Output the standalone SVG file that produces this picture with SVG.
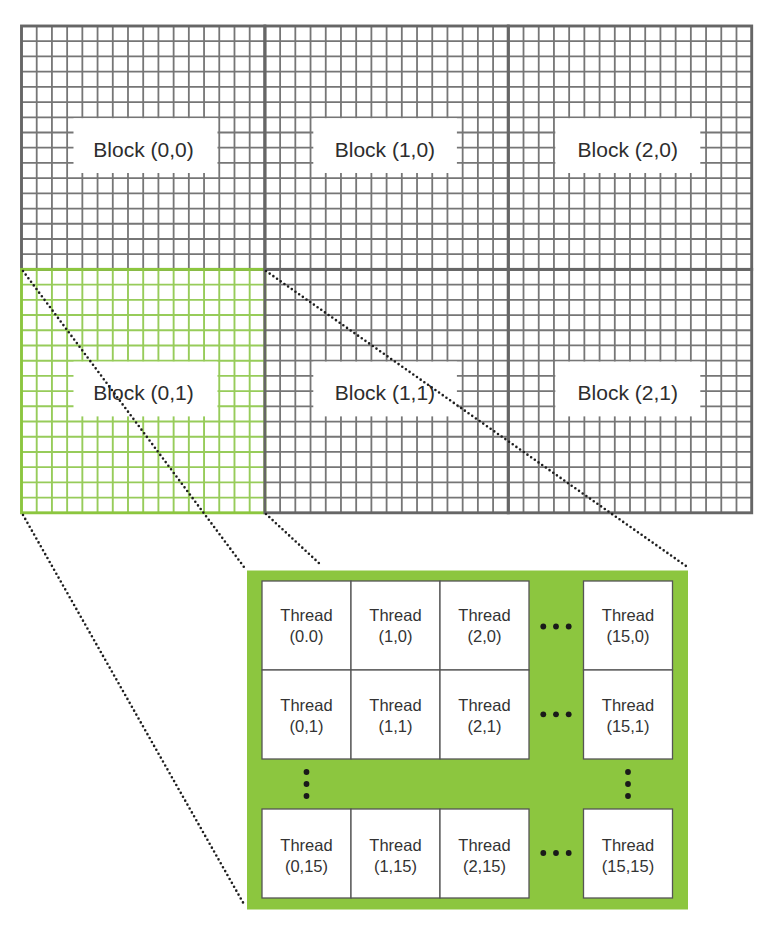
<svg xmlns="http://www.w3.org/2000/svg" xmlns:xlink="http://www.w3.org/1999/xlink" width="781" height="928" viewBox="0 0 781 928">
<style>
.grid{fill:none;stroke:#767676;stroke-width:1.8}
.gridg{fill:none;stroke:#97cc5a;stroke-width:1.9}
.bord{fill:none;stroke:#666666;stroke-width:2.9}
.bordg{fill:none;stroke:#8cc63f;stroke-width:2.9}
.lab{fill:#ffffff;stroke:none}
.bt{font-family:"Liberation Sans",Arial,sans-serif;font-size:21px;fill:#2d2d2d;text-anchor:middle}
.cell{fill:#ffffff;stroke:#555555;stroke-width:1.3}
.tt{font-family:"Liberation Sans",Arial,sans-serif;font-size:16.5px;fill:#333333;text-anchor:middle}
.dot{fill:#1a1a1a}
.conn{fill:none;stroke:#1e1e1e;stroke-width:2.6;stroke-dasharray:0 4.5;stroke-linecap:round}
</style>
<defs>
<path id="gridpath" d="M15.21 0V243.4M30.43 0V243.4M45.64 0V243.4M60.85 0V243.4M76.06 0V243.4M91.28 0V243.4M106.49 0V243.4M121.7 0V243.4M136.91 0V243.4M152.13 0V243.4M167.34 0V243.4M182.55 0V243.4M197.76 0V243.4M212.98 0V243.4M228.19 0V243.4M0 15.21H243.4M0 30.43H243.4M0 45.64H243.4M0 60.85H243.4M0 76.06H243.4M0 91.28H243.4M0 106.49H243.4M0 121.7H243.4M0 136.91H243.4M0 152.13H243.4M0 167.34H243.4M0 182.55H243.4M0 197.76H243.4M0 212.98H243.4M0 228.19H243.4"/>
</defs>
<rect width="781" height="928" fill="#ffffff"/>

<g id="block-0-0" transform="translate(21.5,26)">
<use xlink:href="#gridpath" class="grid"/>
<rect class="bord" x="0" y="0" width="243.4" height="243.4"/>
<rect class="lab" x="52" y="92.2" width="144" height="54.8"/>
<text class="bt" x="122" y="131">Block (0,0)</text>
</g>
<g id="block-0-1" transform="translate(21.5,269.4)">
<use xlink:href="#gridpath" class="gridg"/>
<rect class="bordg" x="0" y="0" width="243.4" height="243.4"/>
<rect class="lab" x="52" y="92.2" width="144" height="54.8"/>
<text class="bt" x="122" y="131">Block (0,1)</text>
</g>
<g id="block-1-0" transform="translate(264.9,26)">
<use xlink:href="#gridpath" class="grid"/>
<rect class="bord" x="0" y="0" width="243.4" height="243.4"/>
<rect class="lab" x="48.4" y="92.2" width="143.6" height="54.8"/>
<text class="bt" x="120" y="131">Block (1,0)</text>
</g>
<g id="block-2-0" transform="translate(508.3,26)">
<use xlink:href="#gridpath" class="grid"/>
<rect class="bord" x="0" y="0" width="243.4" height="243.4"/>
<rect class="lab" x="47" y="92.2" width="145" height="54.8"/>
<text class="bt" x="119.5" y="131">Block (2,0)</text>
</g>
<g id="block-1-1" transform="translate(264.9,269.4)">
<use xlink:href="#gridpath" class="grid"/>
<rect class="bord" x="0" y="0" width="243.4" height="243.4"/>
<rect class="lab" x="48.4" y="92.2" width="143.6" height="54.8"/>
<text class="bt" x="120" y="131">Block (1,1)</text>
</g>
<g id="block-2-1" transform="translate(508.3,269.4)">
<use xlink:href="#gridpath" class="grid"/>
<rect class="bord" x="0" y="0" width="243.4" height="243.4"/>
<rect class="lab" x="47" y="92.2" width="145" height="54.8"/>
<text class="bt" x="119.5" y="131">Block (2,1)</text>
</g>

<g id="block-detail">
<rect x="247" y="570.5" width="441" height="339" fill="#8cc63f"/>
</g>

<g id="thread-0-0"><rect class="cell" x="262" y="581" width="89" height="89"/><text class="tt" x="306.5" y="621">Thread</text><text class="tt" x="306.5" y="642">(0.0)</text></g>
<g id="thread-1-0"><rect class="cell" x="351" y="581" width="89" height="89"/><text class="tt" x="395.5" y="621">Thread</text><text class="tt" x="395.5" y="642">(1,0)</text></g>
<g id="thread-2-0"><rect class="cell" x="440" y="581" width="89" height="89"/><text class="tt" x="484.5" y="621">Thread</text><text class="tt" x="484.5" y="642">(2,0)</text></g>
<g id="thread-15-0"><rect class="cell" x="583.5" y="581" width="89" height="89"/><text class="tt" x="628" y="621">Thread</text><text class="tt" x="628" y="642">(15,0)</text></g>

<g id="thread-0-1"><rect class="cell" x="262" y="670" width="89" height="89"/><text class="tt" x="306.5" y="710.5">Thread</text><text class="tt" x="306.5" y="731.5">(0,1)</text></g>
<g id="thread-1-1"><rect class="cell" x="351" y="670" width="89" height="89"/><text class="tt" x="395.5" y="710.5">Thread</text><text class="tt" x="395.5" y="731.5">(1,1)</text></g>
<g id="thread-2-1"><rect class="cell" x="440" y="670" width="89" height="89"/><text class="tt" x="484.5" y="710.5">Thread</text><text class="tt" x="484.5" y="731.5">(2,1)</text></g>
<g id="thread-15-1"><rect class="cell" x="583.5" y="670" width="89" height="89"/><text class="tt" x="628" y="710.5">Thread</text><text class="tt" x="628" y="731.5">(15,1)</text></g>

<g id="thread-0-15"><rect class="cell" x="262" y="809" width="89" height="89"/><text class="tt" x="306.5" y="850.5">Thread</text><text class="tt" x="306.5" y="871.5">(0,15)</text></g>
<g id="thread-1-15"><rect class="cell" x="351" y="809" width="89" height="89"/><text class="tt" x="395.5" y="850.5">Thread</text><text class="tt" x="395.5" y="871.5">(1,15)</text></g>
<g id="thread-2-15"><rect class="cell" x="440" y="809" width="89" height="89"/><text class="tt" x="484.5" y="850.5">Thread</text><text class="tt" x="484.5" y="871.5">(2,15)</text></g>
<g id="thread-15-15"><rect class="cell" x="583.5" y="809" width="89" height="89"/><text class="tt" x="628" y="850.5">Thread</text><text class="tt" x="628" y="871.5">(15,15)</text></g>

<g id="ellipses">
<circle class="dot" cx="543.3" cy="626.5" r="2.9"/><circle class="dot" cx="556" cy="626.5" r="2.9"/><circle class="dot" cx="568.7" cy="626.5" r="2.9"/>
<circle class="dot" cx="543.3" cy="714.3" r="2.9"/><circle class="dot" cx="556" cy="714.3" r="2.9"/><circle class="dot" cx="568.7" cy="714.3" r="2.9"/>
<circle class="dot" cx="543.3" cy="853" r="2.9"/><circle class="dot" cx="556" cy="853" r="2.9"/><circle class="dot" cx="568.7" cy="853" r="2.9"/>
<circle class="dot" cx="306.5" cy="772" r="2.9"/><circle class="dot" cx="306.5" cy="784" r="2.9"/><circle class="dot" cx="306.5" cy="796" r="2.9"/>
<circle class="dot" cx="628" cy="772" r="2.9"/><circle class="dot" cx="628" cy="784" r="2.9"/><circle class="dot" cx="628" cy="796" r="2.9"/>
</g>

<g id="connectors">
<path class="conn" d="M23 271L244 567"/>
<path class="conn" d="M23 515L245 906"/>
<path class="conn" d="M266 271L686 566"/>
<path class="conn" d="M266 514L321 565"/>
</g>
</svg>
